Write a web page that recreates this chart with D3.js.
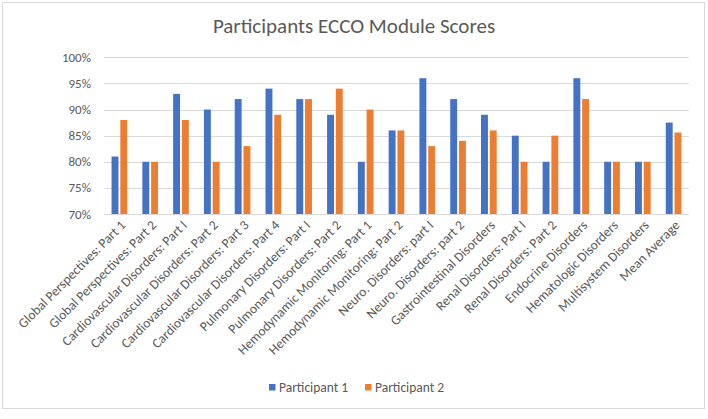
<!DOCTYPE html>
<html>
<head>
<meta charset="utf-8">
<script src="https://cdn.jsdelivr.net/npm/d3@7"></script>
<style>
	body { margin: 0; background: #fff; }
	text { font-family: Carlito, Lato, "Open Sans", sans-serif; fill: #595959; }
</style>
</head>
<body>
<div id="CHART"></div>
<script>
var aCategories = [
	"Global Perspectives: Part 1",
	"Global Perspectives: Part 2",
	"Cardiovascular Disorders: Part I",
	"Cardiovascular Disorders: Part 2",
	"Cardiovascular Disorders: Part 3",
	"Cardiovascular Disorders: Part 4",
	"Pulmonary Disorders: Part I",
	"Pulmonary Disorders: Part 2",
	"Hemodynamic Monitoring: Part 1",
	"Hemodynamic Monitoring: Part 2",
	"Neuro. Disorders: part I",
	"Neuro. Disorders: part 2",
	"Gastrointestinal Disorders",
	"Renal Disorders: Part I",
	"Renal Disorders: Part 2",
	"Endocrine Disorders",
	"Hematologic Disorders",
	"Multisystem Disorders",
	"Mean Average"
];
var aParticipant1 = [81, 80, 93, 90, 92, 94, 92, 89, 80, 86, 96, 92, 89, 85, 80, 96, 80, 80, 87.5];
var aParticipant2 = [88, 80, 88, 80, 83, 89, 92, 94, 90, 86, 83, 84, 86, 80, 85, 92, 80, 80, 85.6];
var aSeriesNames = ["Participant 1", "Participant 2"];
var aYTicks = [70, 75, 80, 85, 90, 95, 100];

function DrawModuleChart()
{
	var iWidth=708;
	var iHeight=419;
	var aColors=["#4472C4", "#ED7D31"];
	var sGrid="#d9d9d9";

	var d3Canvas = d3.select("#CHART").append("svg")
		.attr("width", iWidth)
		.attr("height", iHeight);

	// chart border
	d3Canvas.append("rect")
		.attr("x", 2.5).attr("y", 2.5)
		.attr("width", 702).attr("height", 406)
		.attr("fill", "none")
		.attr("stroke", sGrid);

	d3Canvas.append("text")
		.attr("x", 354)
		.attr("y", 33)
		.attr("text-anchor", "middle")
		.style("font-size", "21px")
		.text("Participants ECCO Module Scores");

	var xAxes = d3.scaleBand().domain(aCategories).range([104, 689]);
	var yAxes = d3.scaleLinear().domain([70, 100]).range([214, 57.3]);

	// gridlines
	d3Canvas.append("g").selectAll("line")
		.data(aYTicks)
		.enter().append("line")
			.attr("x1", 104).attr("x2", 689)
			.attr("y1", function(d) { return Math.round(yAxes(d)) + 0.5; })
			.attr("y2", function(d) { return Math.round(yAxes(d)) + 0.5; })
			.attr("stroke", sGrid);

	d3Canvas.append("g").selectAll("text")
		.data(aYTicks)
		.enter().append("text")
			.attr("x", 91)
			.attr("y", function(d) { return yAxes(d) + 4.5; })
			.attr("text-anchor", "end")
			.style("font-size", "13px")
			.text(function(d) { return d + "%"; });

	// bars
	var iBand = xAxes.bandwidth();
	var iBarW = iBand/4.46;
	var aSeries = [aParticipant1, aParticipant2];
	var aOffsets = [-1.135*iBarW, 0.135*iBarW];

	aSeries.forEach(function(aValues, iS) {
		d3Canvas.append("g").selectAll("rect")
			.data(aValues)
			.enter().append("rect")
				.attr("x", function(d, i) { return xAxes(aCategories[i]) + iBand/2 + aOffsets[iS]; })
				.attr("y", function(d) { return yAxes(d); })
				.attr("width", iBarW)
				.attr("height", function(d) { return yAxes(70) - yAxes(d); })
				.attr("fill", aColors[iS]);
	});

	// x labels
	d3Canvas.append("g").selectAll("text")
		.data(aCategories)
		.enter().append("text")
			.attr("transform", function(d) { return "translate(" + (xAxes(d) + iBand/2 + 7) + ",226) rotate(-45)"; })
			.attr("text-anchor", "end")
			.style("font-size", "13.5px")
			.text(function(d) { return d; });

	// legend
	var aLegendX = [269, 365];
	var myLegend = d3Canvas.append("g").selectAll("g")
		.data(aSeriesNames)
		.enter().append("g")
			.attr("transform", function(d, i) { return "translate(" + aLegendX[i] + ",384)"; });

	myLegend.append("rect")
		.attr("width", 6.5).attr("height", 6.5)
		.attr("fill", function(d, i) { return aColors[i]; });

	myLegend.append("text")
		.attr("x", 10)
		.attr("y", 7.5)
		.style("font-size", "13.5px")
		.text(function(d) { return d; });
}

DrawModuleChart();
</script>
</body>
</html>
